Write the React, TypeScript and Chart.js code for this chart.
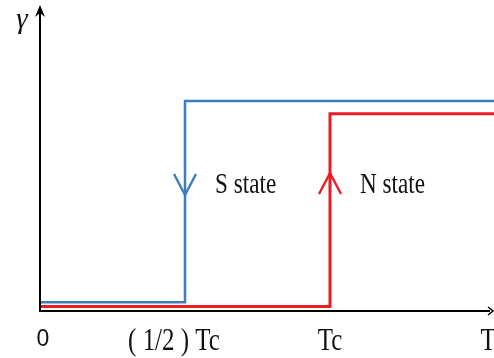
import React, { useEffect, useRef } from "react";
import { Chart, registerables } from "chart.js";

Chart.register(...registerables);

// ---- data ----
const xMax = 1.5655;
const xTickValues = [0, 0.5, 1, 1.545];
const xTickLabels = ["0", "( 1/2 ) Tc", "Tc", "T"];
const sStateX = [0, 0.5, 0.5, xMax];
const sStateY = [0.029, 0.029, 0.686, 0.686];
const nStateX = [0, 1, 1, xMax];
const nStateY = [0.015, 0.015, 0.645, 0.645];
const stateLabels = ["S state", "N state"];
const stateArrowX = [0.5, 1];
const stateArrowTipY = [0.379, 0.451];
const stateArrowDir = ["down", "up"];
const yAxisLabel = "γ";

const BLUE = "#3c7dbd";
const RED = "#ea1c22";

const toPoints = (xs: number[], ys: number[]) => xs.map((x, i) => ({ x, y: ys[i] }));

const decorPlugin = {
  id: "decor",
  afterDatasetsDraw(chart: any) {
    const { ctx, chartArea, scales } = chart;
    const xs = scales.x;
    const ys = scales.y;
    const left = chartArea.left;
    const bottom = chartArea.bottom;
    ctx.save();
    // axes
    ctx.strokeStyle = "#000";
    ctx.fillStyle = "#000";
    ctx.lineWidth = 2;
    ctx.beginPath();
    ctx.moveTo(left, bottom + 1);
    ctx.lineTo(left, 10);
    ctx.moveTo(left - 1, bottom);
    ctx.lineTo(490, bottom);
    ctx.stroke();
    // y arrowhead
    ctx.beginPath();
    ctx.moveTo(left, 5);
    ctx.lineTo(left - 5, 17);
    ctx.lineTo(left, 13);
    ctx.lineTo(left + 5, 17);
    ctx.closePath();
    ctx.fill();
    // x arrowhead
    ctx.lineWidth = 1.5;
    ctx.beginPath();
    ctx.moveTo(488, bottom - 4);
    ctx.lineTo(493, bottom);
    ctx.lineTo(488, bottom + 4);
    ctx.stroke();

    // state arrows (chevrons)
    const colors = [BLUE, RED];
    stateArrowX.forEach((xv, i) => {
      const px = xs.getPixelForValue(xv);
      const py = ys.getPixelForValue(stateArrowTipY[i]);
      const d = stateArrowDir[i] === "down" ? -1 : 1;
      ctx.strokeStyle = colors[i];
      ctx.lineWidth = 2.4;
      ctx.beginPath();
      ctx.moveTo(px - 11, py + d * 21);
      ctx.lineTo(px, py);
      ctx.lineTo(px + 11, py + d * 21);
      ctx.stroke();
      // label
      ctx.fillStyle = "#111";
      ctx.font = "29px 'Liberation Serif', 'Times New Roman', serif";
      ctx.textAlign = "left";
      ctx.textBaseline = "alphabetic";
      ctx.save();
      ctx.translate(px + 30, 193);
      ctx.scale(0.8, 1);
      ctx.fillText(stateLabels[i], 0, 0);
      ctx.restore();
    });

    // x tick labels
    ctx.fillStyle = "#111";
    xTickLabels.forEach((lab, i) => {
      const px = xs.getPixelForValue(xTickValues[i]);
      if (i === 0) {
        ctx.font = "23px 'Liberation Sans', Arial, sans-serif";
        ctx.textAlign = "center";
        ctx.textBaseline = "alphabetic";
        ctx.fillText(lab, px + 3, 346);
        return;
      }
      const off = i === 1 ? -11 : 0;
      ctx.save();
      ctx.font = "32px 'Liberation Serif', 'Times New Roman', serif";
      ctx.textAlign = "center";
      ctx.textBaseline = "alphabetic";
      ctx.translate(px + off, 350);
      ctx.scale(0.78, 1);
      ctx.fillText(lab, 0, 0);
      ctx.restore();
    });

    // y axis label
    ctx.font = "italic 29px 'Liberation Serif', 'Times New Roman', serif";
    ctx.textAlign = "center";
    ctx.textBaseline = "alphabetic";
    ctx.fillText(yAxisLabel, 22, 28);
    ctx.restore();
  },
};

export default function App() {
  const ref = useRef<HTMLCanvasElement | null>(null);
  useEffect(() => {
    if (!ref.current) return;
    const chart = new Chart(ref.current, {
      type: "scatter",
      data: {
        datasets: [
          {
            label: "S state",
            data: toPoints(sStateX, sStateY),
            showLine: true,
            borderColor: BLUE,
            borderWidth: 2.5,
            pointRadius: 0,
            fill: false,
          },
          {
            label: "N state",
            data: toPoints(nStateX, nStateY),
            showLine: true,
            borderColor: RED,
            borderWidth: 3,
            pointRadius: 0,
            fill: false,
          },
        ],
      },
      options: {
        responsive: false,
        animation: false,
        layout: { padding: { left: 40, right: 0, top: 5, bottom: 47 } },
        scales: {
          x: { type: "linear", min: 0, max: xMax, display: false },
          y: { type: "linear", min: 0, max: 1, display: false },
        },
        plugins: {
          legend: { display: false },
          tooltip: { enabled: false },
        },
      },
      plugins: [decorPlugin],
    });
    return () => chart.destroy();
  }, []);
  return (
    <div style={{ position: "fixed", left: 0, top: 0, width: 494, height: 358, background: "#fff" }}>
      <canvas ref={ref} width={494} height={358} />
    </div>
  );
}
